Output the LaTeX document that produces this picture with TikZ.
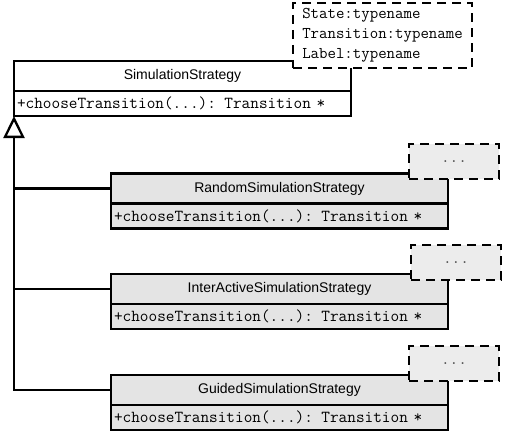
\documentclass[tikz,border=0pt]{standalone}
\usepackage{fontspec}
\setmainfont{Liberation Sans}
\usetikzlibrary{arrows.meta}
\definecolor{classfill}{RGB}{228,228,228}
\definecolor{notefill}{RGB}{236,236,236}
\begin{document}
\begin{tikzpicture}[x=1pt,y=-1pt,
  classname/.style={draw, line width=2.3pt, minimum width=337pt, minimum height=30pt,
    inner sep=0pt, outer sep=0pt, anchor=north west, font=\fontsize{14}{16}\selectfont},
  method/.style={draw, line width=2.3pt, text width=331pt, inner xsep=3pt, inner ysep=0pt,
    outer sep=0pt, minimum height=25pt, anchor=north, align=left,
    font=\ttfamily\fontsize{16.8}{18}\selectfont},
  subclass/.style={fill=classfill},
  note/.style={draw, dash pattern=on 9pt off 6pt, line width=2.8pt, fill=notefill,
    minimum width=90pt, minimum height=35pt, inner sep=0pt, outer sep=0pt, anchor=north west,
    font=\ttfamily\fontsize{16.8}{18}\selectfont, text=black!70},
  template/.style={draw, dash pattern=on 9pt off 6pt, line width=2.8pt, fill=white,
    minimum width=179pt, minimum height=65pt, inner sep=0pt, outer sep=0pt, anchor=north west,
    align=left, font=\ttfamily\fontsize{16.4}{20}\selectfont},
  link/.style={line width=2.3pt},
  inherit/.style={line width=2.3pt, -{Triangle[open, length=22pt, width=21pt, line width=2.3pt]}}
]
\useasboundingbox[fill=white] (0,0) rectangle (506,436);

% abstract base class
\node[classname, fill=white] (sup) at (14,61) {SimulationStrategy};
\node[method, fill=white] (supm) at (sup.south) {+chooseTransition(...): Transition *};

% concrete strategies
\node[classname, subclass] (rnd) at (111,173.5) {RandomSimulationStrategy};
\node[method, subclass] (rndm) at (rnd.south) {+chooseTransition(...): Transition *};

\node[classname, subclass] (ia) at (111,274) {InterActiveSimulationStrategy};
\node[method, subclass] (iam) at (ia.south) {+chooseTransition(...): Transition *};

\node[classname, subclass] (gd) at (111,375) {GuidedSimulationStrategy};
\node[method, subclass] (gdm) at (gd.south) {+chooseTransition(...): Transition *};

% template parameters
\node[template] (tpl) at (293,3) {State:typename\\Transition:typename\\Label:typename};
\node[note] (rndn) at (409,144) {...};
\node[note] (ian) at (411,245) {...};
\node[note] (gdn) at (409,346) {...};

% generalization hierarchy
\draw[inherit] (gd.west) -| (supm.south west);
\draw[link] (rnd.west) -- (rnd.west -| supm.south west);
\draw[link] (ia.west) -- (ia.west -| supm.south west);
\end{tikzpicture}
\end{document}
